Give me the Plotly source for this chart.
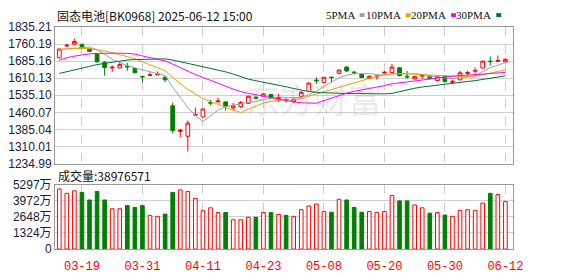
import plotly.graph_objects as go

W, H = 578, 276

dates = ["2025-03-14","2025-03-17","2025-03-18","2025-03-19","2025-03-20","2025-03-21","2025-03-24","2025-03-25",
         "2025-03-26","2025-03-27","2025-03-28","2025-03-31","2025-04-01","2025-04-02","2025-04-03","2025-04-07",
         "2025-04-08","2025-04-09","2025-04-10","2025-04-11","2025-04-14","2025-04-15","2025-04-16","2025-04-17",
         "2025-04-18","2025-04-21","2025-04-22","2025-04-23","2025-04-24","2025-04-25","2025-04-28","2025-04-29",
         "2025-04-30","2025-05-06","2025-05-07","2025-05-08","2025-05-09","2025-05-12","2025-05-13","2025-05-14",
         "2025-05-15","2025-05-16","2025-05-19","2025-05-20","2025-05-21","2025-05-22","2025-05-23","2025-05-26",
         "2025-05-27","2025-05-28","2025-05-29","2025-05-30","2025-06-03","2025-06-04","2025-06-05","2025-06-06",
         "2025-06-09","2025-06-10","2025-06-11","2025-06-12"]

opens = [1700,1752,1759,1759,1739,1717,1680,1655,1655,1663,1652,1618,1622,1625,1614,1489,1376,1355,1448,1440,
         1503,1507,1506,1480,1485,1500,1527,1531,1539,1521,1516,1506,1531,1552,1602,1592,1615,1632,1659,1637,
         1628,1610,1616,1633,1635,1656,1619,1607,1619,1620,1600,1620,1592,1603,1631,1641,1655,1685,1684,1682]
highs = [1741,1760,1784,1761,1741,1719,1684,1667,1678,1678,1656,1621,1635,1640,1621,1503,1388,1424,1481,1477,
         1515,1524,1508,1502,1510,1533,1530,1546,1541,1542,1522,1522,1555,1591,1614,1616,1615,1648,1663,1642,
         1630,1624,1624,1642,1673,1658,1642,1619,1622,1622,1620,1621,1604,1643,1642,1657,1687,1706,1710,1698]
lows = [1697,1746,1757,1740,1727,1680,1621,1638,1654,1642,1632,1592,1620,1624,1592,1367,1350,1288,1447,1438,
        1492,1499,1467,1471,1480,1498,1518,1529,1521,1506,1503,1504,1528,1550,1585,1590,1592,1627,1638,1627,
        1611,1608,1603,1629,1634,1619,1607,1605,1607,1606,1598,1593,1587,1601,1621,1630,1653,1666,1683,1680]
closes = [1738,1755,1771,1742,1728,1682,1657,1658,1670,1660,1634,1616,1625,1628,1603,1380,1382,1413,1451,1475,
          1501,1510,1488,1489,1503,1531,1522,1541,1524,1525,1512,1518,1548,1589,1599,1614,1613,1646,1642,1634,
          1613,1618,1619,1636,1659,1621,1616,1617,1622,1608,1617,1595,1596,1634,1635,1644,1685,1683,1688,1693]

ma5 = [1736,1739,1741,1745,1746.8,1735.6,1716.0,1693.4,1679.0,1665.4,1655.8,1647.6,1641.0,1632.6,1621.2,1570.4,
       1523.6,1481.2,1445.8,1420.2,1444.4,1470.0,1485.0,1492.6,1498.2,1504.2,1506.6,1517.2,1524.2,1528.6,1524.8,
       1524.0,1525.4,1538.4,1553.2,1573.6,1592.6,1612.2,1622.8,1629.8,1629.6,1630.6,1625.2,1624.4,1629.4,1631.0,
       1630.0,1629.8,1627.0,1616.8,1616.0,1611.8,1607.6,1610.0,1615.2,1620.6,1638.6,1656.2,1667.0,1679.0]
ma10 = [1737,1739,1740,1741,1740,1736,1729,1723,1715,1706.1,1695.7,1681.8,1667.2,1655.8,1643.3,1613.1,1585.6,
        1561.1,1539.2,1520.7,1507.4,1496.8,1483.1,1469.2,1459.2,1474.3,1488.3,1501.1,1508.4,1513.4,1514.5,1515.3,
        1521.3,1531.3,1540.9,1549.0,1558.1,1568.6,1580.4,1591.3,1601.4,1611.6,1618.7,1623.4,1629.4,1630.1,1630.4,
        1627.7,1625.7,1623.1,1623.5,1621.0,1618.8,1618.6,1616.2,1618.5,1625.4,1631.6,1638.2,1646.7]
ma20 = [1689,1700,1707,1713,1717,1719,1720,1720,1720,1719,1716,1708,1700,1694,1686,1672,1656,1640,1626,
        1613.4,1601.6,1589.3,1575.2,1562.5,1551.3,1543.7,1537.0,1531.1,1523.8,1517.1,1511.0,1506.1,1502.2,1500.3,
        1500.1,1511.8,1523.3,1535.0,1544.5,1552.5,1558.1,1563.6,1570.2,1577.6,1585.4,1589.9,1594.6,1598.4,1603.3,
        1607.5,1612.8,1616.6,1619.1,1621.3,1623.2,1624.7,1628.3,1630.2,1632.5,1635.4]
ma30 = [1631,1638,1645,1655,1662,1670,1675,1682,1686,1690,1692,1693,1695,1696,1695,1690,1683,1675,1668,1662,
        1655,1647,1638,1628,1617,1606,1599,1593,1586,
        1580.1,1572.5,1564.7,1557.2,1552.1,1547.8,1545.6,1544.1,1543.7,1542.8,1541.9,1541.2,1541.4,1541.1,1541.4,
        1543.3,1551.3,1559.1,1565.9,1571.6,1576.1,1580.0,1582.8,1586.4,1591.2,1595.7,1599.4,1604.9,1609.6,1615.1,
        1620.7]

# volume in 万
volume = [4935,4574,4780,4651,4031,4729,4031,3308,3308,3566,3411,3566,2765,2687,2868,4651,4858,4729,4160,3152,
          3385,2997,2997,2403,2403,2610,2610,2997,2997,2842,2765,2687,3230,3540,3695,3075,3023,4083,4031,3411,
          3023,3075,2997,3075,4393,3954,3954,3618,3385,2946,2997,2791,2687,3178,3230,3178,3773,4574,4470,3898]
last_volume = "38976571"

price_ticks = [1234.99,1310.01,1385.04,1460.07,1535.10,1610.13,1685.16,1760.19,1835.21]
vol_ticks = [0,1324,2648,3972,5297]
vol_ticktext = ["0","1324万","2648万","3972万","5297万"]
xtick_dates = ["2025-03-19","2025-03-31","2025-04-11","2025-04-23","2025-05-08","2025-05-20","2025-05-30","2025-06-12"]
xtick_text = ["03-19","03-31","04-11","04-23","05-08","05-20","05-30","06-12"]

title_text = "固态电池[BK0968] 2025-06-12 15:00"
ma_names = ["5PMA","10PMA","20PMA","30PMA"]
ma_colors = ["#a0a0a0","#f0a000","#ff00ff","#006e36"]

RED = "#ff0000"
GREEN = "#008000"

def px(x):
    return x / W

def py(y):
    return 1 - y / H

fig = go.Figure()

fig.add_trace(go.Candlestick(
    x=dates, open=opens, high=highs, low=lows, close=closes,
    increasing=dict(line=dict(color=RED, width=1), fillcolor="white"),
    decreasing=dict(line=dict(color=GREEN, width=1), fillcolor=GREEN),
    whiskerwidth=0, xaxis="x", yaxis="y", showlegend=False, hoverinfo="skip"))

for name, vals, col in zip(ma_names, [ma5, ma10, ma20, ma30], ma_colors):
    fig.add_trace(go.Scatter(x=dates, y=vals, mode="lines", line=dict(color=col, width=1),
                             xaxis="x", yaxis="y", showlegend=False, hoverinfo="skip", name=name))

up = [True] + [closes[i] >= closes[i - 1] for i in range(1, len(closes))]
fig.add_trace(go.Bar(
    x=dates, y=volume, xaxis="x2", yaxis="y2", width=0.48,
    marker=dict(color=["white" if u else GREEN for u in up],
                line=dict(color=[RED if u else GREEN for u in up], width=1)),
    showlegend=False, hoverinfo="skip"))

xdom = [px(56), px(522)]
xrange = [-0.56, 60.0]
common_x = dict(type="category", range=xrange, domain=xdom, showgrid=True, gridcolor="#cccccc",
                griddash="dash", gridwidth=1, tickmode="array", tickvals=xtick_dates,
                showline=True, linecolor="#999999", linewidth=1, mirror=True, ticks="",
                zeroline=False, fixedrange=True)

fig.update_layout(
    width=W, height=H, autosize=False,
    margin=dict(l=0, r=0, t=0, b=0),
    paper_bgcolor="white", plot_bgcolor="white",
    showlegend=False,
    xaxis=dict(**common_x, anchor="y", showticklabels=False, rangeslider=dict(visible=False)),
    xaxis2=dict(**common_x, anchor="y2", matches="x", showticklabels=True, ticktext=xtick_text,
                ticklabelstandoff=6,
                tickfont=dict(family="Liberation Mono, monospace", size=12, color=RED)),
    yaxis=dict(domain=[py(165), py(21)], range=[price_ticks[0], price_ticks[-1]], tickmode="array",
               tickvals=price_ticks, ticktext=[f"{v:.2f}" for v in price_ticks],
               showgrid=True, gridcolor="#d0d0d0", gridwidth=1, zeroline=False,
               showline=True, linecolor="#999999", linewidth=1, mirror=True, ticks="",
               tickfont=dict(family="Liberation Sans, Arial", size=12, color="#1a1a3a"),
               anchor="x", fixedrange=True),
    yaxis2=dict(domain=[py(255), py(187)], range=[0, 5297], tickmode="array",
                tickvals=vol_ticks, ticktext=vol_ticktext,
                showgrid=True, gridcolor="#d0d0d0", gridwidth=1, zeroline=False,
                showline=True, linecolor="#999999", linewidth=1, mirror=True, ticks="",
                tickfont=dict(family="Liberation Sans, Noto Sans CJK SC", size=12, color="#1a1a3a"),
                anchor="x2", fixedrange=True),
)

annotations = [
    dict(text=title_text, x=px(56), y=py(8.5), xref="paper", yref="paper", xanchor="left", yanchor="middle",
         showarrow=False, font=dict(family="Noto Sans CJK SC", size=12, color="#111111")),
    dict(text="成交量:" + last_volume, x=px(57), y=py(177), xref="paper", yref="paper", xanchor="left",
         yanchor="middle", showarrow=False, font=dict(family="Noto Sans CJK SC", size=12, color="#111111")),
    dict(text="东方财富", x=px(320), y=py(96), xref="paper", yref="paper", xanchor="center", yanchor="middle",
         showarrow=False, font=dict(family="Noto Sans CJK SC", size=34, color="rgba(160,160,160,0.22)")),
]
shapes = []
square_x = [366, 413, 459, 505]
for name, col, sx in zip(ma_names, ma_colors, square_x):
    annotations.append(dict(text=name, x=px(sx - 3), y=py(8.5), xref="paper", yref="paper", xanchor="right",
                            yanchor="middle", showarrow=False,
                            font=dict(family="Liberation Serif, serif", size=11, color="#111111")))
    shapes.append(dict(type="rect", xref="paper", yref="paper", x0=px(sx), x1=px(sx + 5), y0=py(10.5),
                       y1=py(6.5), fillcolor=col, line=dict(width=0), layer="above"))

fig.update_layout(annotations=annotations, shapes=shapes)

fig.write_html("out.html", config={"displayModeBar": False, "staticPlot": True})
